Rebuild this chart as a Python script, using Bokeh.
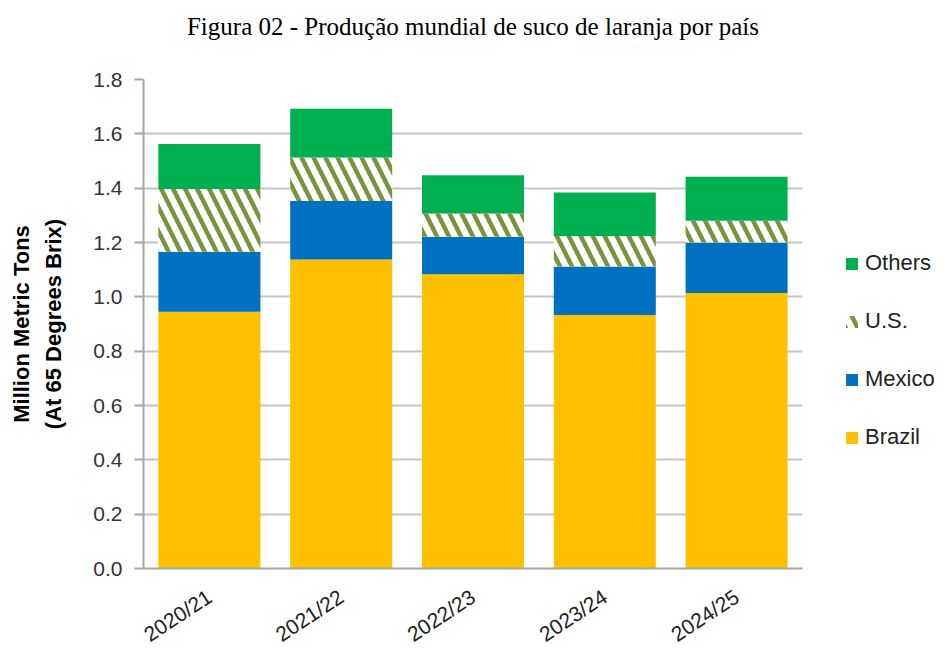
from bokeh.plotting import figure
from bokeh.models import Range1d, FactorRange, FixedTicker, Legend, LegendItem, NumeralTickFormatter, Title
from bokeh.embed import file_html
from bokeh.resources import INLINE

years = ["2020/21", "2021/22", "2022/23", "2023/24", "2024/25"]
brazil = [0.945, 1.137, 1.083, 0.933, 1.014]
mexico = [0.221, 0.216, 0.138, 0.179, 0.186]
us = [0.231, 0.160, 0.086, 0.112, 0.080]
others = [0.166, 0.179, 0.141, 0.160, 0.162]
series = ["Brazil", "Mexico", "U.S.", "Others"]
y_ticks = [0.0, 0.2, 0.4, 0.6, 0.8, 1.0, 1.2, 1.4, 1.6, 1.8]
title_text = "Figura 02 - Produção mundial de suco de laranja por país"

source = dict(years=years, Brazil=brazil, Mexico=mexico)
source["U.S."] = us
source["Others"] = others

p = figure(frame_width=659, frame_height=489, x_range=FactorRange(*years, range_padding=0),
           y_range=Range1d(0, 1.8), output_backend="svg", toolbar_location=None,
           min_border_left=143, min_border_right=120, min_border_top=79, min_border_bottom=65)
p.title = None

rs = p.vbar_stack(series, x="years", width=0.774, source=source,
                  fill_color=["#FFC000", "#0070C0", "white", "#00B050"],
                  line_color=None,
                  hatch_pattern=[" ", " ", "\\", " "],
                  hatch_color=["#FFC000", "#0070C0", "#77933C", "#00B050"],
                  hatch_scale=[12, 12, 24, 12],
                  hatch_weight=[1, 1, 4.5, 1])

legend = Legend(items=[LegendItem(label=s, renderers=[r]) for s, r in reversed(list(zip(series, rs)))],
                location=(42, 118), padding=0, margin=0, border_line_color=None,
                background_fill_alpha=0, glyph_width=15, glyph_height=15,
                label_height=22, spacing=32, label_standoff=6,
                label_text_font="Liberation Sans", label_text_font_size="22px",
                label_text_color="#222222")
p.add_layout(legend, "right")

spacer = Title(text=" ", text_font_size="20px", standoff=16)
p.add_layout(spacer, "above")
main_title = Title(text=title_text, text_font="Liberation Serif", text_font_size="25px",
                   text_font_style="normal", align="center", standoff=0, text_color="black")
p.add_layout(main_title, "above")

p.yaxis.ticker = FixedTicker(ticks=y_ticks)
p.yaxis.formatter = NumeralTickFormatter(format="0.0")
p.yaxis.axis_label = "Million Metric Tons\n(At 65 Degrees Brix)"
p.yaxis.axis_label_text_font = "Liberation Sans"
p.yaxis.axis_label_text_font_style = "bold"
p.yaxis.axis_label_text_font_size = "22px"
p.yaxis.axis_label_text_line_height = 1.3
p.yaxis.axis_label_text_color = "black"
p.yaxis.axis_label_standoff = 24
p.yaxis.major_label_text_font = "Liberation Sans"
p.yaxis.major_label_text_font_size = "21px"
p.yaxis.major_label_text_color = "#333333"
p.yaxis.major_label_standoff = 12
p.yaxis.axis_line_color = "#A6A6A6"
p.yaxis.axis_line_width = 2
p.yaxis.major_tick_line_color = "#A6A6A6"
p.yaxis.major_tick_line_width = 2
p.yaxis.major_tick_out = 9
p.yaxis.major_tick_in = 0
p.yaxis.minor_tick_line_color = None

p.xaxis.major_label_orientation = 0.58
p.xaxis.major_label_text_font = "Liberation Sans"
p.xaxis.major_label_text_font_size = "21px"
p.xaxis.major_label_text_color = "#222222"
p.xaxis.axis_line_color = "#A6A6A6"
p.xaxis.axis_line_width = 2
p.xaxis.major_tick_line_color = None
p.xaxis.minor_tick_line_color = None
p.xaxis.major_label_standoff = 20

p.xgrid.grid_line_color = None
p.ygrid.grid_line_color = "#C4C4C4"
p.ygrid.grid_line_width = 2
p.ygrid.ticker = FixedTicker(ticks=y_ticks)
p.outline_line_color = None

open("out.html", "w").write(file_html(p, INLINE))
